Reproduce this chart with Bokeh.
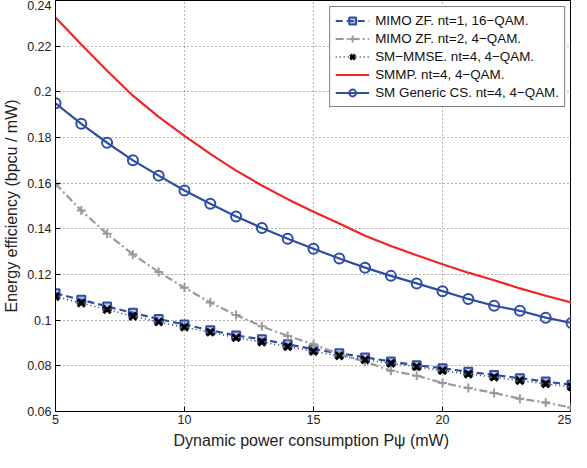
from bokeh.plotting import figure
from bokeh.models import Legend, LegendItem, FixedTicker
from bokeh.embed import file_html
from bokeh.resources import INLINE

# ---- data ----
power_mw = [5, 6, 7, 8, 9, 10, 11, 12, 13, 14, 15, 16, 17, 18, 19, 20, 21, 22, 23, 24, 25]

mimo_zf_nt1 = [0.1118, 0.1089, 0.1060, 0.1032, 0.1005, 0.0981, 0.0956, 0.0933, 0.0916, 0.0894,
               0.0873, 0.0855, 0.0837, 0.0819, 0.0803, 0.0789, 0.0774, 0.0760, 0.0746, 0.0731, 0.0717]
mimo_zf_nt2 = [0.1597, 0.1480, 0.1378, 0.1288, 0.1211, 0.1142, 0.1077, 0.1023, 0.0973, 0.0931,
               0.0894, 0.0851, 0.0818, 0.0779, 0.0757, 0.0725, 0.0703, 0.0681, 0.0656, 0.0639, 0.0617]
sm_mmse = [0.1103, 0.1075, 0.1046, 0.1017, 0.0992, 0.0969, 0.0947, 0.0923, 0.0904, 0.0884,
           0.0863, 0.0844, 0.0826, 0.0811, 0.0796, 0.0779, 0.0764, 0.0750, 0.0735, 0.0721, 0.0708]
smmp = [0.2326, 0.2207, 0.2092, 0.1983, 0.1890, 0.1807, 0.1728, 0.1655, 0.1590, 0.1530,
        0.1475, 0.1423, 0.1370, 0.1325, 0.1284, 0.1245, 0.1208, 0.1175, 0.1139, 0.1107, 0.1077]
sm_generic_cs = [0.1950, 0.1860, 0.1777, 0.1700, 0.1633, 0.1568, 0.1510, 0.1454, 0.1404, 0.1357,
                 0.1313, 0.1270, 0.1230, 0.1194, 0.1161, 0.1127, 0.1093, 0.1063, 0.1041, 0.1011, 0.0988]

series_labels = ["MIMO ZF. nt=1, 16\u2212QAM.", "MIMO ZF. nt=2, 4\u2212QAM.", "SM\u2212MMSE. nt=4, 4\u2212QAM.",
                 "SMMP. nt=4, 4\u2212QAM.", "SM Generic CS. nt=4, 4\u2212QAM."]

x_ticks = [5, 10, 15, 20, 25]
y_ticks = [0.06, 0.08, 0.10, 0.12, 0.14, 0.16, 0.18, 0.20, 0.22, 0.24]
y_tick_labels = ["0.06", "0.08", "0.1", "0.12", "0.14", "0.16", "0.18", "0.2", "0.22", "0.24"]

x_label = "Dynamic power consumption P\u03c8  (mW)"
y_label = "Energy efficiency (bpcu / mW)"

FONT = "Liberation Sans"
BLUE = "#2f4ea3"
RED = "#f02424"
GRAY = "#9a9a9a"
TXT = "#222222"

p = figure(width=571, height=452, x_range=(5, 25), y_range=(0.06, 0.24),
           output_backend="svg", toolbar_location=None,
           min_border_left=53, min_border_right=0, min_border_top=0, min_border_bottom=41)

p.background_fill_color = "white"
p.border_fill_color = "white"
p.outline_line_color = "black"
p.outline_line_width = 1

# axes
p.xaxis.ticker = FixedTicker(ticks=x_ticks)
p.yaxis.ticker = FixedTicker(ticks=y_ticks)
p.yaxis.major_label_overrides = {t: l for t, l in zip(y_ticks, y_tick_labels)}
for ax in (p.xaxis[0], p.yaxis[0]):
    ax.major_tick_in = 5
    ax.major_tick_out = 0
    ax.minor_tick_in = 0
    ax.minor_tick_out = 0
    ax.axis_line_color = "black"
    ax.major_tick_line_color = "black"
    ax.major_label_text_font = FONT
    ax.major_label_text_font_size = "12.5px"
    ax.major_label_text_color = TXT
    ax.axis_label_text_font = FONT
    ax.axis_label_text_font_size = "16px"
    ax.axis_label_text_font_style = "normal"
    ax.axis_label_text_color = TXT
p.yaxis.major_label_standoff = 4
p.yaxis.axis_label = y_label
p.yaxis.axis_label_standoff = 4
p.xaxis.major_label_standoff = 3
p.xaxis.axis_label = x_label
p.xaxis.axis_label_standoff = 5

# grid
p.grid.grid_line_color = "#555555"
p.grid.grid_line_dash = "1 3"
p.grid.grid_line_width = 1
p.grid.grid_line_alpha = 0.9

# series
r1l = p.line(power_mw, mimo_zf_nt1, line_color=BLUE, line_width=2.2, line_dash="7 4")
r1m = p.scatter(power_mw, mimo_zf_nt1, marker="square", size=8, line_color=BLUE,
                line_width=2, fill_color=BLUE, fill_alpha=0.35)
r2l = p.line(power_mw, mimo_zf_nt2, line_color=GRAY, line_width=2.2, line_dash="8 3 2 3")
r2m = p.scatter(power_mw, mimo_zf_nt2, marker="cross", size=9, line_color=GRAY, line_width=2)
r3l = p.line(power_mw, sm_mmse, line_color="#333333", line_width=1.5, line_dash="1 3")
r3m = p.scatter(power_mw, sm_mmse, marker="x", size=10, line_color="black", line_width=3)
r4l = p.line(power_mw, smmp, line_color=RED, line_width=2.2)
r5l = p.line(power_mw, sm_generic_cs, line_color=BLUE, line_width=2.2)
r5m = p.scatter(power_mw, sm_generic_cs, marker="circle", size=10, line_color=BLUE,
                line_width=2, fill_color=None)

legend = Legend(items=[
    LegendItem(label=series_labels[0], renderers=[r1l, r1m]),
    LegendItem(label=series_labels[1], renderers=[r2l, r2m]),
    LegendItem(label=series_labels[2], renderers=[r3l, r3m]),
    LegendItem(label=series_labels[3], renderers=[r4l]),
    LegendItem(label=series_labels[4], renderers=[r5l, r5m]),
], location="top_right")
legend.label_text_font = FONT
legend.label_text_font_size = "13.4px"
legend.label_text_color = "#111111"
legend.glyph_width = 34
legend.glyph_height = 17
legend.label_height = 17
legend.label_standoff = 6
legend.spacing = 1
legend.padding = 5
legend.margin = 6
legend.border_line_color = "black"
legend.border_line_width = 1
legend.background_fill_alpha = 1
p.add_layout(legend, "center")

open("out.html", "w").write(file_html(p, INLINE))
